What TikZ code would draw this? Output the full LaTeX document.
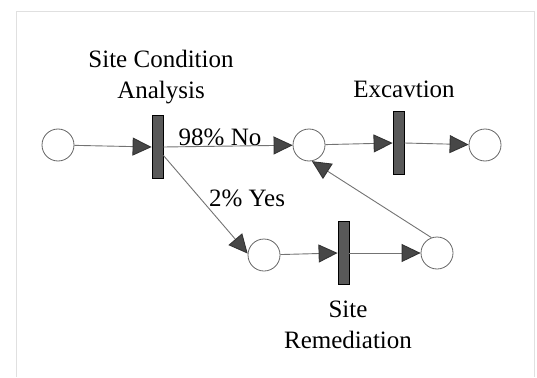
\documentclass[tikz,border=0pt]{standalone}
\usepackage{fontspec}
\setmainfont{Liberation Serif}
\usetikzlibrary{arrows.meta}

\tikzset{
  place/.style={circle, draw=black!60, line width=0.8pt, minimum size=32pt, inner sep=0pt},
  transition/.style={rectangle, draw=black, fill=black!65, line width=0.8pt,
    minimum width=11pt, minimum height=63pt, inner sep=0pt},
  arc/.style={draw=black!55, line width=0.9pt,
    -{Triangle[length=19pt, width=18pt, color=black!80, fill=black!72]}},
  lbl/.style={font=\fontsize{25}{31}\selectfont, inner sep=0pt, anchor=base},
}

\begin{document}
\begin{tikzpicture}[x=1pt, y=-1pt]
  \useasboundingbox (0,0) rectangle (537,377);

  % faint frame
  \draw[black!12, line width=0.8pt] (16,377) -- (16,11) -- (534,11) -- (534,377);

  % places
  \node[place] (p1) at (58,145) {};
  \node[place] (p2) at (309,145) {};
  \node[place] (p3) at (485,145) {};
  \node[place] (p4) at (264,255) {};
  \node[place] (p5) at (437,253) {};

  % transitions
  \node[transition] (t1) at (157.5,147) {};
  \node[transition] (t2) at (398.5,143) {};
  \node[transition] (t3) at (343.5,253) {};

  % labels
  \node[lbl] (l1a) at (161,68) {Site Condition};
  \node[lbl] (l1b) at (161,99) {Analysis};
  \node[lbl] (l2) at (404,97) {Excavtion};
  \node[lbl] (l3a) at (348,317) {Site};
  \node[lbl] (l3b) at (348,348) {Remediation};
  \node[lbl] (no) at (220,145) {98\% No};
  \node[lbl] (yes) at (247,206) {2\% Yes};

  % arcs
  \draw[arc] (p1) -- (t1.west);
  \draw[arc] (t1.east) -- (p2);
  \draw[arc] (t1.-55) -- (p4.175);
  \draw[arc] (p2) -- (t2.west);
  \draw[arc] (t2.east) -- (p3);
  \draw[arc] (p4) -- (t3.west);
  \draw[arc] (t3.east) -- (p5);
  \draw[arc] (p5.110) -- (p2.-80);
\end{tikzpicture}
\end{document}
